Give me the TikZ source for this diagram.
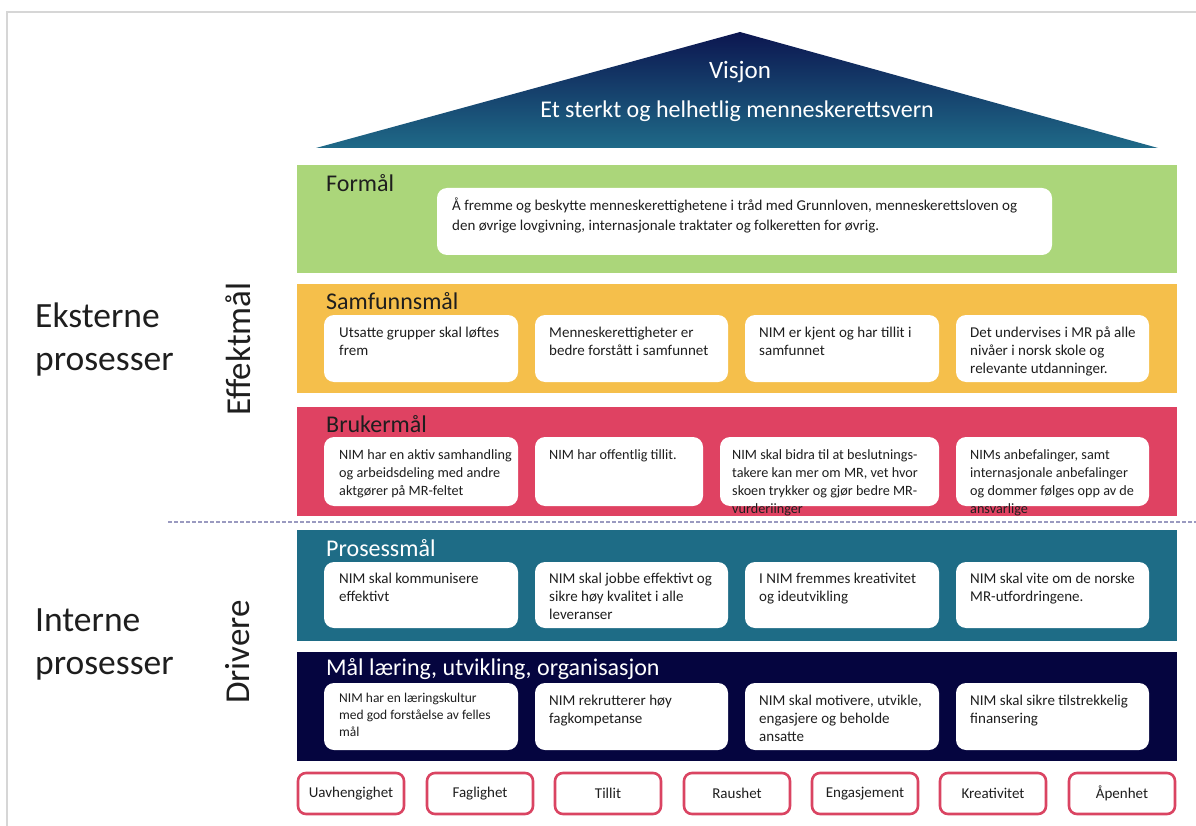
\documentclass[tikz,border=0pt]{standalone}
\usepackage{fontspec}
\setmainfont{Carlito}
\definecolor{frame}{HTML}{D6D6D6}
\definecolor{roofTop}{HTML}{0C1650}
\definecolor{roofBot}{HTML}{1F6A88}
\definecolor{cGreen}{HTML}{ABD67A}
\definecolor{cYellow}{HTML}{F5BF4B}
\definecolor{cRed}{HTML}{DF4262}
\definecolor{cTeal}{HTML}{1E6C86}
\definecolor{cNavy}{HTML}{05053F}
\definecolor{valred}{HTML}{DA4462}
\definecolor{dashc}{HTML}{9A9AC0}
\definecolor{txt}{HTML}{1E1E1E}
\begin{document}
\begin{tikzpicture}[x=1pt,y=-1pt,
  wbox/.style={fill=white, rounded corners=10pt},
  btext/.style={anchor=north west, align=left, inner sep=0, text=txt,
     font=\fontsize{15}{18}\selectfont},
  ttl/.style={anchor=west, inner sep=0, font=\fontsize{24}{28}\selectfont},
  side/.style={anchor=west, inner sep=0, align=left, text=txt, font=\fontsize{35.5}{43}\selectfont},
  vert/.style={inner sep=0, rotate=90, text=txt, font=\fontsize{35}{40}\selectfont},
  valbox/.style={draw=valred, line width=2.6pt, fill=white, rounded corners=8pt,
     minimum width=106, minimum height=41, inner sep=0, text=txt,
     font=\fontsize{15}{18}\selectfont}]
\useasboundingbox (0,0) rectangle (1196,826);
% frame
\draw[frame, line width=2pt] (7,826) -- (7,12) -- (1196,12);
% roof
\coordinate (rl) at (316,148);
\coordinate (ra) at (740,32);
\coordinate (rr) at (1158,148);
\shade[top color=roofTop, bottom color=roofBot] (rl) -- (ra) -- (rr) -- cycle;
\node[inner sep=0, text=white, font=\fontsize{25}{28}\selectfont] (visjon) at (740,72) {Visjon};
\node[inner sep=0, text=white, font=\fontsize{24}{28}\selectfont] (vern) at (737,111) {Et sterkt og helhetlig menneskerettsvern};
% bands
\fill[cGreen] (297,165) rectangle (1177,273);
\fill[cYellow] (297,284) rectangle (1177,393);
\fill[cRed] (297,407) rectangle (1177,516);
\fill[cTeal] (297,530) rectangle (1177,641);
\fill[cNavy] (297,652) rectangle (1177,761);
% titles
\node[ttl, text=txt] (tF) at (326,183) {Formål};
\node[ttl, text=txt] (tS) at (326,301) {Samfunnsmål};
\node[ttl, text=txt] (tB) at (326,424) {Brukermål};
\node[ttl, text=white] (tP) at (326,548) {Prosessmål};
\node[ttl, text=white] (tM) at (326,669) {Mål læring, utvikling, organisasjon};
% Formål box
\fill[wbox] (437,188) rectangle (1052,255);
\node[btext, font=\fontsize{15}{20}\selectfont] (f1) at (452,198) {Å fremme og beskytte menneskerettighetene i tråd med Grunnloven, menneskerettsloven og\\den øvrige lovgivning, internasjonale traktater og folkeretten for øvrig.};
% Samfunnsmål
\fill[wbox] (324,315) rectangle (518,382);
\fill[wbox] (535,315) rectangle (728,382);
\fill[wbox] (745,315) rectangle (939,382);
\fill[wbox] (956,315) rectangle (1149,382);
\node[btext] (s1) at (339,327) {Utsatte grupper skal løftes\\frem};
\node[btext] (s2) at (549,327) {Menneskerettigheter er\\bedre forstått i samfunnet};
\node[btext] (s3) at (759,327) {NIM er kjent og har tillit i\\samfunnet};
\node[btext] (s4) at (970,327) {Det undervises i MR på alle\\nivåer i norsk skole og\\relevante utdanninger.};
% Brukermål
\fill[wbox] (324,437) rectangle (518,506);
\fill[wbox] (535,437) rectangle (703,506);
\fill[wbox] (720,437) rectangle (939,506);
\fill[wbox] (956,437) rectangle (1149,506);
\node[btext, font=\fontsize{14.2}{18}\selectfont] (b1) at (339,449) {NIM har en aktiv samhandling\\og arbeidsdeling med andre\\aktgører på MR-feltet};
\node[btext, font=\fontsize{14.2}{18}\selectfont] (b2) at (549,449) {NIM har offentlig tillit.};
\node[btext, font=\fontsize{14.2}{18}\selectfont] (b3) at (732,449) {NIM skal bidra til at beslutnings-\\takere kan mer om MR, vet hvor\\skoen trykker og gjør bedre MR-\\vurderiinger};
\node[btext, font=\fontsize{14.2}{18}\selectfont] (b4) at (970,449) {NIMs anbefalinger, samt\\internasjonale anbefalinger\\og dommer følges opp av de\\ansvarlige};
% dashed separator
\coordinate (dl) at (168,522);
\coordinate (dr) at (1196,522);
\draw[dashc, line width=1.2pt, dash pattern=on 4pt off 2pt] (dl) -- (dr);
% Prosessmål
\fill[wbox] (324,562) rectangle (518,628);
\fill[wbox] (535,562) rectangle (728,628);
\fill[wbox] (745,562) rectangle (939,628);
\fill[wbox] (956,562) rectangle (1149,628);
\node[btext] (p1) at (339,573) {NIM skal kommunisere\\effektivt};
\node[btext] (p2) at (549,573) {NIM skal jobbe effektivt og\\sikre høy kvalitet i alle\\leveranser};
\node[btext] (p3) at (759,573) {I NIM fremmes kreativitet\\og ideutvikling};
\node[btext] (p4) at (970,573) {NIM skal vite om de norske\\MR-utfordringene.};
% Mål læring
\fill[wbox] (324,683) rectangle (518,750);
\fill[wbox] (535,683) rectangle (728,750);
\fill[wbox] (745,683) rectangle (939,750);
\fill[wbox] (956,683) rectangle (1149,750);
\node[btext, font=\fontsize{13.5}{17}\selectfont] (m1) at (339,693) {NIM har en læringskultur\\med god forståelse av felles\\mål};
\node[btext] (m2) at (549,695) {NIM rekrutterer høy\\fagkompetanse};
\node[btext] (m3) at (759,695) {NIM skal motivere, utvikle,\\engasjere og beholde\\ansatte};
\node[btext] (m4) at (970,695) {NIM skal sikre tilstrekkelig\\finansering};
% values
\node[valbox] (v1) at (351,793.5) {Uavhengighet};
\node[valbox] (v2) at (480,793.5) {Faglighet};
\node[valbox] (v3) at (608,793.5) {Tillit};
\node[valbox] (v4) at (737,793.5) {Raushet};
\node[valbox] (v5) at (865,793.5) {Engasjement};
\node[valbox] (v6) at (993,793.5) {Kreativitet};
\node[valbox] (v7) at (1122,793.5) {Åpenhet};
% left labels
\node[side] (ext) at (35,340) {Eksterne\\prosesser};
\node[side] (int) at (35,644) {Interne\\prosesser};
\node[vert] (eff) at (238,349) {Effektmål};
\node[vert] (drv) at (238,652) {Drivere};
\end{tikzpicture}
\end{document}
